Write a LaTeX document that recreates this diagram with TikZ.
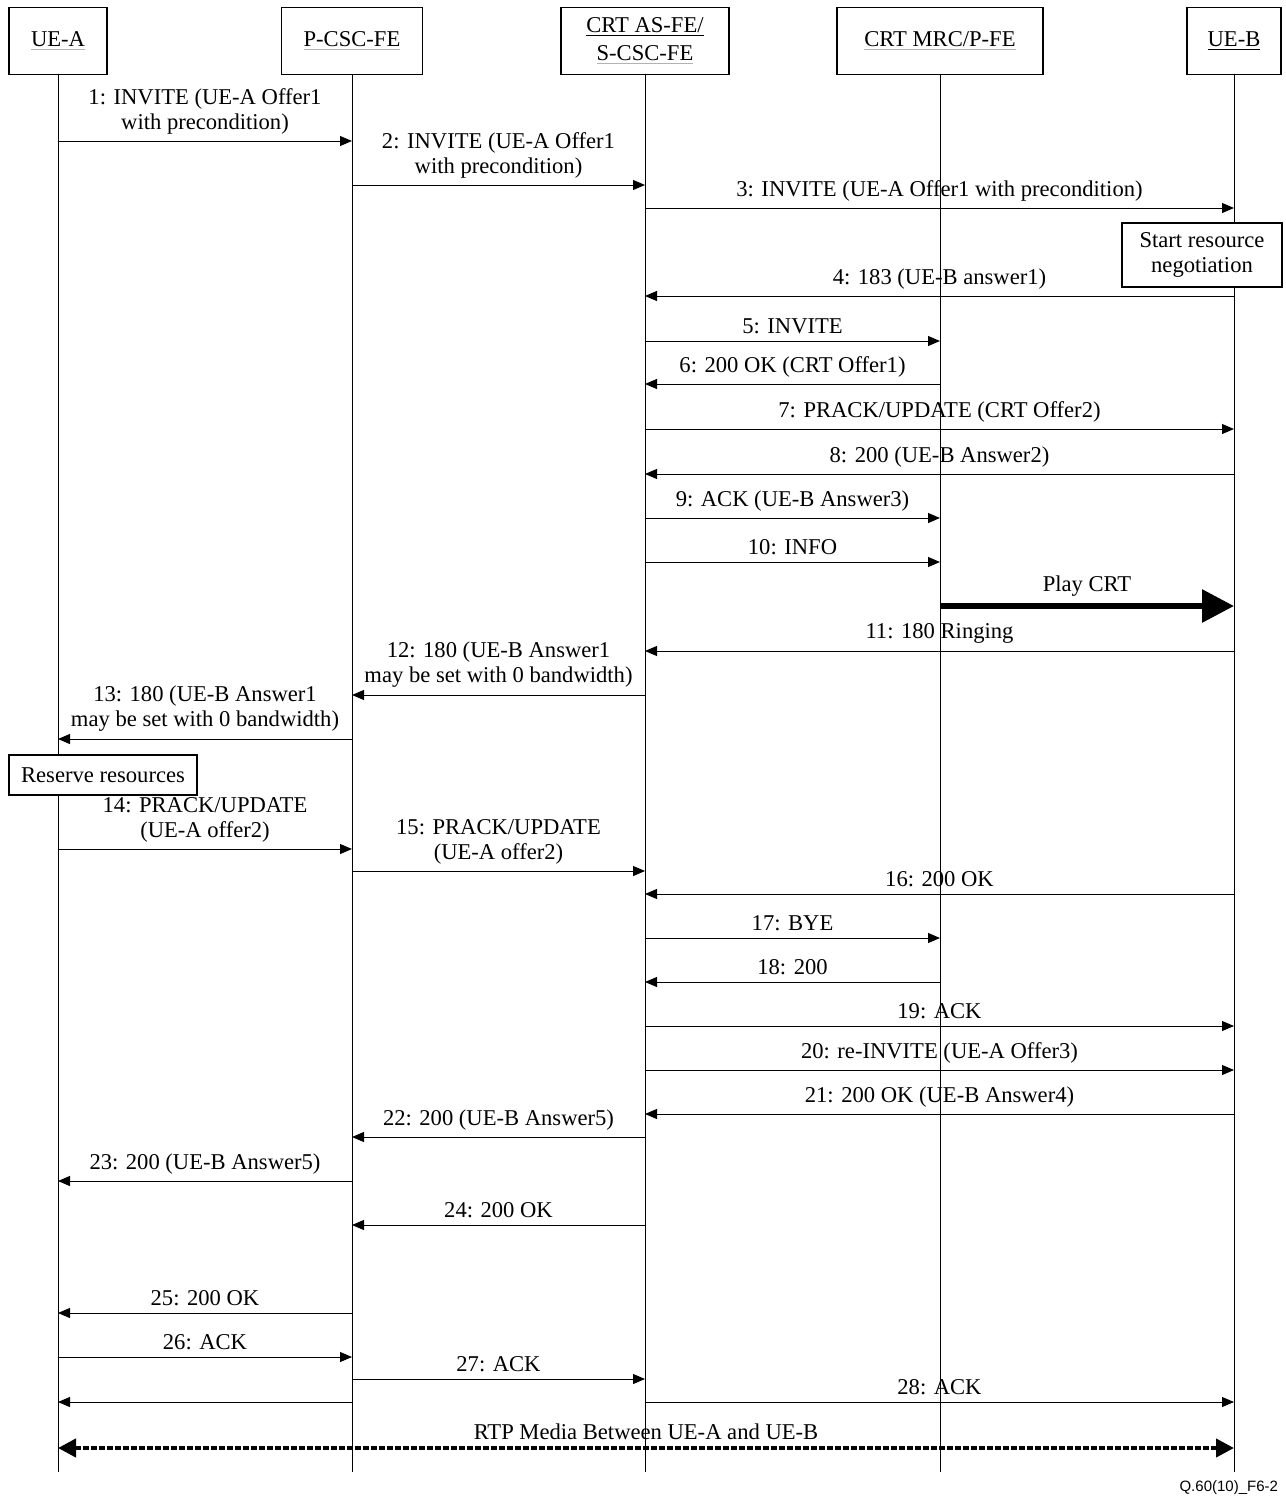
\documentclass[tikz,border=0pt]{standalone}
\usepackage{fontspec}
\setmainfont{Liberation Serif}
\newfontfamily\figfont{Liberation Sans}
\usetikzlibrary{arrows.meta}
\newcommand{\gul}[1]{{\color{black!30}\underline{\color{black}#1}}}
\tikzset{
  ent/.style={draw, line width=0.75pt, minimum height=33.5pt, align=center, font=\fontsize{11.3}{14}\selectfont},
  note/.style={draw, line width=0.6pt, fill=white, align=center, font=\fontsize{11.3}{12.5}\selectfont},
  life/.style={line width=0.5pt},
  msg/.style={line width=0.5pt, -{Triangle[length=6pt, width=5pt]}},
  lbl/.style={midway, above, align=center, font=\fontsize{11.3}{12.5}\selectfont},
}
\begin{document}
\begin{tikzpicture}[x=0.5pt, y=-0.5pt]
          \useasboundingbox (0,0) rectangle (1285,1499);

          % entities
          \node[ent, minimum width=49pt] (ua) at (58,41) {\gul{UE-A}};
          \node[ent, minimum width=70.5pt] (pc) at (352,41) {\gul{P-CSC-FE}};
          \node[ent, minimum width=84pt] (sc) at (645,41) {\underline{CRT AS-FE/}\\\gul{S-CSC-FE}};
          \node[ent, minimum width=103pt] (mr) at (940,41) {\gul{CRT MRC/P-FE}};
          \node[ent, minimum width=47pt] (ub) at (1234,41) {\underline{UE-B}};

          % lifelines
          \draw[life] (ua.south) -- (ua.south |- 0,1472);
          \draw[life] (pc.south) -- (pc.south |- 0,1472);
          \draw[life] (sc.south) -- (sc.south |- 0,1472);
          \draw[life] (mr.south) -- (mr.south |- 0,1472);
          \draw[life] (ub.south) -- (ub.south |- 0,1472);

          \draw[msg] (ua |- 0,141) -- (pc |- 0,141) node[lbl] {1: INVITE (UE-A Offer1\\with precondition)};
          \draw[msg] (pc |- 0,185) -- (sc |- 0,185) node[lbl] {2: INVITE (UE-A Offer1\\with precondition)};
          \draw[msg] (sc |- 0,208) -- (ub |- 0,208) node[lbl] {3: INVITE (UE-A Offer1 with precondition)};

          \node[note, minimum width=80pt, minimum height=32pt] (neg) at (1202,255) {Start resource\\negotiation};

          \draw[msg] (ub |- 0,296) -- (sc |- 0,296) node[lbl] {4: 183 (UE-B answer1)};
          \draw[msg] (sc |- 0,341) -- (mr |- 0,341) node[lbl] {5: INVITE};
          \draw[msg] (mr |- 0,384) -- (sc |- 0,384) node[lbl] {6: 200 OK (CRT Offer1)};
          \draw[msg] (sc |- 0,429) -- (ub |- 0,429) node[lbl] {7: PRACK/UPDATE (CRT Offer2)};
          \draw[msg] (ub |- 0,474) -- (sc |- 0,474) node[lbl] {8: 200 (UE-B Answer2)};
          \draw[msg] (sc |- 0,518) -- (mr |- 0,518) node[lbl] {9: ACK (UE-B Answer3)};
          \draw[msg] (sc |- 0,562) -- (mr |- 0,562) node[lbl] {10: INFO};

          % media towards UE-B
          \draw[line width=3pt, -{Triangle[length=16pt, width=16pt]}] (mr |- 0,606) -- (ub |- 0,606) node[lbl] {Play CRT};

          \draw[msg] (ub |- 0,651) -- (sc |- 0,651) node[lbl] {11: 180 Ringing};
          \draw[msg] (sc |- 0,695) -- (pc |- 0,695) node[lbl] {12: 180 (UE-B Answer1\\may be set with 0 bandwidth)};
          \draw[msg] (pc |- 0,739) -- (ua |- 0,739) node[lbl] {13: 180 (UE-B Answer1\\may be set with 0 bandwidth)};

          \node[note, minimum width=94pt, minimum height=20pt] (rsv) at (103,775) {Reserve resources};

          \draw[msg] (ua |- 0,849) -- (pc |- 0,849) node[lbl] {14: PRACK/UPDATE\\(UE-A offer2)};
          \draw[msg] (pc |- 0,871) -- (sc |- 0,871) node[lbl] {15: PRACK/UPDATE\\(UE-A offer2)};
          \draw[msg] (ub |- 0,894) -- (sc |- 0,894) node[lbl] {16: 200 OK};
          \draw[msg] (sc |- 0,938) -- (mr |- 0,938) node[lbl] {17: BYE};
          \draw[msg] (mr |- 0,982) -- (sc |- 0,982) node[lbl] {18: 200};
          \draw[msg] (sc |- 0,1026) -- (ub |- 0,1026) node[lbl] {19: ACK};
          \draw[msg] (sc |- 0,1070) -- (ub |- 0,1070) node[lbl] {20: re-INVITE (UE-A Offer3)};
          \draw[msg] (ub |- 0,1114) -- (sc |- 0,1114) node[lbl] {21: 200 OK (UE-B Answer4)};
          \draw[msg] (sc |- 0,1137) -- (pc |- 0,1137) node[lbl] {22: 200 (UE-B Answer5)};
          \draw[msg] (pc |- 0,1181) -- (ua |- 0,1181) node[lbl] {23: 200 (UE-B Answer5)};
          \draw[msg] (sc |- 0,1225) -- (pc |- 0,1225) node[lbl] {24: 200 OK};
          \draw[msg] (pc |- 0,1313) -- (ua |- 0,1313) node[lbl] {25: 200 OK};
          \draw[msg] (ua |- 0,1357) -- (pc |- 0,1357) node[lbl] {26: ACK};
          \draw[msg] (pc |- 0,1379) -- (sc |- 0,1379) node[lbl] {27: ACK};
          \draw[msg] (sc |- 0,1402) -- (ub |- 0,1402) node[lbl] {28: ACK};
          \draw[msg] (pc |- 0,1402) -- (ua |- 0,1402);

          % RTP both ways
          \draw[line width=2pt, dash pattern=on 3pt off 1pt, {Triangle[length=9pt, width=9pt]}-{Triangle[length=9pt, width=9pt]}] (ua |- 0,1448) -- (ub |- 0,1448) node[lbl] {RTP Media Between UE-A and UE-B};

          \node[anchor=east, font=\figfont\fontsize{7.5}{9}\selectfont] (fig) at (1285,1488) {Q.60(10)\_F6-2};
        \end{tikzpicture}
\end{document}
